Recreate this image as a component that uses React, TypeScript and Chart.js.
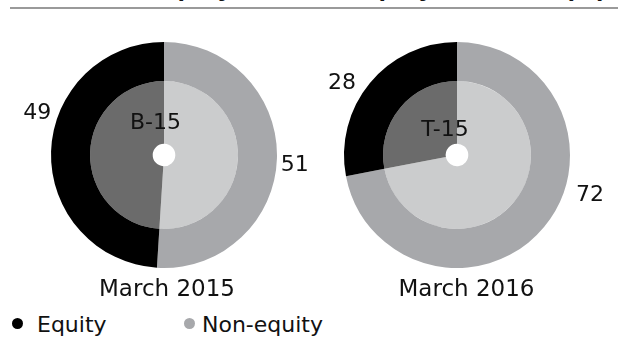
import React, { useEffect, useRef } from 'react';
import { Chart, registerables } from 'chart.js';

Chart.register(...registerables);

// ---- data ----
const seriesNames = ['Equity', 'Non-equity'];
const periods = ['March 2015', 'March 2016'];
const schemeCodes = ['B-15', 'T-15'];
const equityShare = [49, 28];
const nonEquityShare = [51, 72];

// ---- styling ----
const FONT = '"DejaVu Sans", "Liberation Sans", sans-serif';
const TEXT_COLOR = '#111111';
// outer ring / inner ring colours, keyed by series (Equity, Non-equity)
const OUTER_COLORS = ['#000000', '#a7a8ab'];
const INNER_COLORS = ['#6b6b6b', '#cbcccd'];

// placement of each donut and its annotations (degrees / pixels)
const LAYOUT = [
  {
    cx: 164,
    // nudges from each slice's mid angle, in drawing order (Non-equity, Equity)
    labelNudge: [1.9, 17.2],
    labelGap: [18, 21],
    codeOffset: [-8.5, -34.5],
    periodOffset: [3, 133],
  },
  {
    cx: 457,
    labelNudge: [-23.5, -7],
    labelGap: [25.5, 23.5],
    codeOffset: [-12, -27],
    periodOffset: [9.5, 133],
  },
];

const CANVAS_W = 300;
const CANVAS_H = 270;
const CANVAS_TOP = 35;

// Draws the value labels round the ring, the scheme code inside and the period underneath.
const annotatePlugin = {
  id: 'annotate',
  afterDatasetsDraw(chart: any, _args: any, opts: any) {
    const meta = chart.getDatasetMeta(0);
    if (!meta.data.length) return;
    const ctx = chart.ctx as CanvasRenderingContext2D;
    const first = meta.data[0].getProps(['x', 'y', 'outerRadius'], true);
    const x0 = first.x;
    const y0 = first.y;
    const outer = first.outerRadius;
    ctx.save();
    ctx.fillStyle = TEXT_COLOR;
    ctx.textAlign = 'center';
    ctx.textBaseline = 'alphabetic';
    const halfCap = (size: number) => size * 0.729 / 2;

    ctx.font = `22px ${FONT}`;
    meta.data.forEach((arc: any, i: number) => {
      const p = arc.getProps(['startAngle', 'endAngle'], true);
      const mid = (p.startAngle + p.endAngle) / 2 + (opts.labelNudge[i] * Math.PI) / 180;
      const r = outer + opts.labelGap[i];
      const value = chart.data.datasets[0].data[i];
      ctx.fillText(String(value), x0 + r * Math.cos(mid), y0 + r * Math.sin(mid) + halfCap(22));
    });

    ctx.fillText(opts.code, x0 + opts.codeOffset[0], y0 + opts.codeOffset[1] + halfCap(22));

    ctx.font = `23px ${FONT}`;
    ctx.fillText(opts.period, x0 + opts.periodOffset[0], y0 + opts.periodOffset[1] + halfCap(23));
    ctx.restore();
  },
};

function Donut({ index }: { index: number }) {
  const ref = useRef<HTMLCanvasElement>(null);
  const place = LAYOUT[index];

  useEffect(() => {
    if (!ref.current) return;
    // slices run clockwise from 12 o'clock: Non-equity first, then Equity
    const order = [1, 0];
    const values = [nonEquityShare[index], equityShare[index]];
    const chart = new Chart(ref.current, {
      type: 'doughnut',
      data: {
        labels: order.map((k) => seriesNames[k]),
        datasets: [
          {
            data: values,
            backgroundColor: order.map((k) => OUTER_COLORS[k]),
            borderWidth: 0,
            hoverBorderWidth: 0,
            weight: 39,
          } as any,
          {
            data: values,
            backgroundColor: order.map((k) => INNER_COLORS[k]),
            borderWidth: 0,
            hoverBorderWidth: 0,
            weight: 62.5,
          } as any,
        ],
      },
      options: {
        responsive: false,
        maintainAspectRatio: false,
        animation: false,
        events: [],
        cutout: '10%',
        layout: { padding: { left: 37, right: 37, top: 7, bottom: 37 } },
        plugins: {
          legend: { display: false },
          tooltip: { enabled: false },
          annotate: {
            labelNudge: place.labelNudge,
            labelGap: place.labelGap,
            code: schemeCodes[index],
            codeOffset: place.codeOffset,
            period: periods[index],
            periodOffset: place.periodOffset,
          },
        } as any,
      },
      plugins: [annotatePlugin],
    });
    return () => chart.destroy();
  }, [index]);

  return (
    <canvas
      ref={ref}
      width={CANVAS_W}
      height={CANVAS_H}
      style={{
        position: 'absolute',
        left: place.cx - CANVAS_W / 2,
        top: CANVAS_TOP,
        width: CANVAS_W,
        height: CANVAS_H,
      }}
    />
  );
}

function LegendItem({ label, color, dotX, textX }: { label: string; color: string; dotX: number; textX: number }) {
  return (
    <>
      <div
        style={{
          position: 'absolute',
          left: dotX - 5.5,
          top: 317.5,
          width: 11,
          height: 11,
          borderRadius: '50%',
          background: color,
        }}
      />
      <div
        style={{
          position: 'absolute',
          left: textX,
          top: 314,
          font: `22px ${FONT}`,
          lineHeight: '22px',
          color: TEXT_COLOR,
          whiteSpace: 'nowrap',
        }}
      >
        {label}
      </div>
    </>
  );
}

export default function App() {
  return (
    <div
      style={{
        position: 'absolute',
        left: 0,
        top: 0,
        width: 618,
        height: 338,
        overflow: 'hidden',
        background: '#ffffff',
      }}
    >
      <div
        style={{
          position: 'absolute',
          left: 38,
          top: -27,
          font: 'bold 27px "Liberation Sans", Arial, sans-serif',
          lineHeight: '27px',
          color: TEXT_COLOR,
          whiteSpace: 'nowrap',
        }}
      >
        Share of equity and non-equity schemes (%)
      </div>
      <div style={{ position: 'absolute', left: 10, top: 7, width: 608, height: 2, background: '#9a9a9a' }} />
      <Donut index={0} />
      <Donut index={1} />
      <LegendItem label={seriesNames[0]} color={OUTER_COLORS[0]} dotX={17} textX={37} />
      <LegendItem label={seriesNames[1]} color={OUTER_COLORS[1]} dotX={189} textX={202} />
    </div>
  );
}
